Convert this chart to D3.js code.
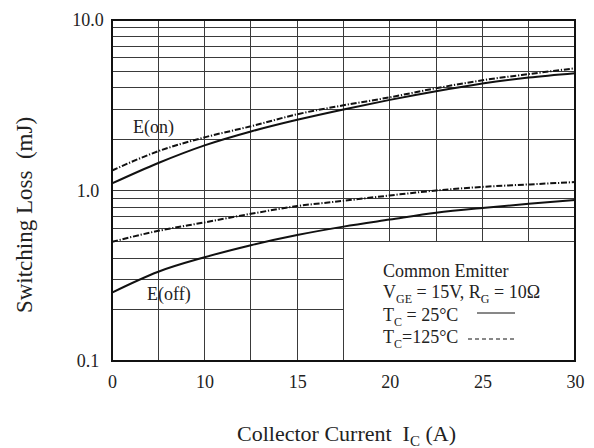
<!DOCTYPE html>
<html>
<head>
<meta charset="utf-8">
<script src="https://cdn.jsdelivr.net/npm/d3@7"></script>
<style>
	body{margin:0;background:#fff;}
	svg{font-family:"Liberation Serif","Times New Roman",serif;}
</style>
</head>
<body>
<svg width="594" height="448"></svg>
<script>
//values (mJ)
var current = [0,5,10,12.5,15,17.5,20,22.5,25,27.5,30];
var eon25 = [1.10,1.45,1.84,2.22,2.60,2.99,3.40,3.82,4.24,4.60,4.88];
var eon125 = [1.31,1.70,2.05,2.38,2.80,3.16,3.52,3.98,4.43,4.82,5.21];
var eoff25 = [0.252,0.334,0.406,0.478,0.548,0.614,0.675,0.74,0.79,0.835,0.88];
var eoff125 = [0.50,0.58,0.65,0.73,0.81,0.87,0.935,1.0,1.05,1.085,1.12];

//axis stuff
var xTicks = [0,10,15,20,25,30];
var yTicks = [0.1,1,10];
var xGrid = [5,10,12.5,15,17.5,20,22.5,25,27.5];
var boxLeft = 17.5, boxTop = 0.5;

var svg = d3.select('svg');
//note: "top" is taken by window.top, so plot edges get their own names
var pLeft = 112, pRight = 575, pTop = 20, pBottom = 361;

//the printed axis puts 0..10 in the first fifth, so piecewise
var x = d3.scaleLinear()
	.domain([0,10,30])
	.range([pLeft,pLeft+(pRight-pLeft)/5,pRight]);
var y = d3.scaleLog()
	.domain([0.1,10])
	.range([pBottom,pTop]);

var grid = svg.append('g')
	.attr('stroke','#3a3a3a')
	.attr('stroke-width',1)
	.attr('shape-rendering','crispEdges');

var yGrid = y.ticks().filter(function(d){
	return d>0.1 && d<10;
});
grid.selectAll('line.h')
	.data(yGrid)
	.enter()
	.append('line')
	.attr('class','h')
	.attr('x1',x(0))
	.attr('x2',function(d){
		return d<boxTop ? x(boxLeft) : x(30);
	})
	.attr('y1',function(d){ return y(d); })
	.attr('y2',function(d){ return y(d); });

grid.selectAll('line.v')
	.data(xGrid)
	.enter()
	.append('line')
	.attr('class','v')
	.attr('x1',function(d){ return x(d); })
	.attr('x2',function(d){ return x(d); })
	.attr('y1',y(10))
	.attr('y2',function(d){
		return d>boxLeft ? y(boxTop) : y(0.1);
	});

//curves
var line = d3.line()
	.x(function(d){ return x(d[0]); })
	.y(function(d){ return y(d[1]); })
	.curve(d3.curveMonotoneX);

var series = [
	{vals:eon25,dash:null},
	{vals:eon125,dash:'6,1.8,1.2,1.8'},
	{vals:eoff25,dash:null},
	{vals:eoff125,dash:'6,1.8,1.2,1.8'}
];
svg.append('g')
	.selectAll('path')
	.data(series)
	.enter()
	.append('path')
	.attr('d',function(s){
		return line(current.map(function(c,i){ return [c,s.vals[i]]; }));
	})
	.attr('fill','none')
	.attr('stroke','#111')
	.attr('stroke-width',2)
	.attr('stroke-dasharray',function(s){ return s.dash; });

//frame
svg.append('rect')
	.attr('x',pLeft)
	.attr('y',pTop)
	.attr('width',pRight-pLeft)
	.attr('height',pBottom-pTop)
	.attr('fill','none')
	.attr('stroke','#111')
	.attr('stroke-width',2);

//axes
var xAxis = svg.append('g')
	.attr('transform','translate(0,'+pBottom+')')
	.call(d3.axisBottom(x).tickValues(xTicks).tickSize(0).tickPadding(14).tickFormat(d3.format('d')));
var yAxis = svg.append('g')
	.attr('transform','translate('+pLeft+',0)')
	.call(d3.axisLeft(y).tickValues(yTicks).tickSize(0).tickFormat(d3.format('.1f')));
[xAxis,yAxis].forEach(function(a){
	a.select('.domain').remove();
	a.selectAll('text')
		.attr('fill','#222')
		.style('font-family','"Liberation Serif",serif')
		.style('font-size','18px');
});
yAxis.selectAll('text')
	.attr('text-anchor','middle')
	.attr('x',-24);

//titles
var xt = svg.append('text')
	.attr('x',(pLeft+pRight)/2+3)
	.attr('y',441)
	.attr('text-anchor','middle')
	.attr('fill','#222')
	.style('font-size','22px');
xt.append('tspan').text('Collector Current\u00a0 I');
xt.append('tspan').attr('dy',5).style('font-size','15px').text('C');
xt.append('tspan').attr('dy',-5).text(' (A)');

svg.append('text')
	.attr('transform','translate(32,215) rotate(-90)')
	.attr('text-anchor','middle')
	.attr('fill','#222')
	.style('font-size','23px')
	.text('Switching Loss\u00a0 (mJ)');

//curve labels
svg.append('text').attr('x',133).attr('y',133).attr('fill','#222').style('font-size','18px').text('E(on)');
svg.append('text').attr('x',147).attr('y',300).attr('fill','#222').style('font-size','18px').text('E(off)');

//legend
var lg = svg.append('g')
	.attr('fill','#222')
	.style('font-size','18px');
var lx = 383;
lg.append('text').attr('x',lx).attr('y',277).text('Common Emitter');

var l2 = lg.append('text').attr('x',lx).attr('y',298);
l2.append('tspan').text('V');
l2.append('tspan').attr('dy',5).style('font-size','12px').text('GE');
l2.append('tspan').attr('dy',-5).text(' = 15V, R');
l2.append('tspan').attr('dy',5).style('font-size','12px').text('G');
l2.append('tspan').attr('dy',-5).text(' = 10\u03a9');

var l3 = lg.append('text').attr('x',lx).attr('y',321);
l3.append('tspan').text('T');
l3.append('tspan').attr('dy',5).style('font-size','12px').text('C');
l3.append('tspan').attr('dy',-5).text(' = 25\u00b0C');

var l4 = lg.append('text').attr('x',lx).attr('y',343);
l4.append('tspan').text('T');
l4.append('tspan').attr('dy',5).style('font-size','12px').text('C');
l4.append('tspan').attr('dy',-5).text('=125\u00b0C');

lg.append('line')
	.attr('x1',477).attr('x2',515)
	.attr('y1',313).attr('y2',313)
	.attr('stroke','#111').attr('stroke-width',1);
lg.append('line')
	.attr('x1',468).attr('x2',515)
	.attr('y1',339).attr('y2',339)
	.attr('stroke','#111').attr('stroke-width',1)
	.attr('stroke-dasharray','4,3');
</script>
</body>
</html>
